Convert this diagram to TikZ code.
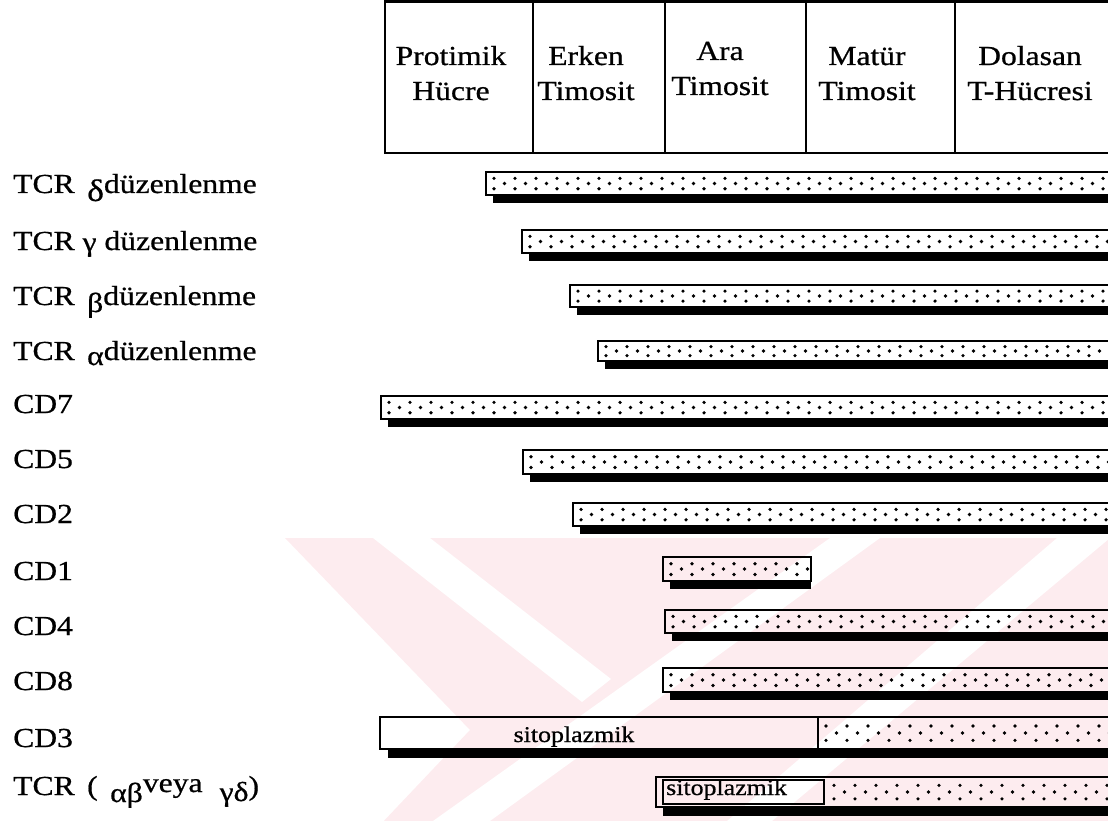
\documentclass[tikz,border=0pt]{standalone}
\usepackage{fontspec}
\setmainfont{Liberation Serif}[FakeStretch=1.15,FakeBold=0.7]
\definecolor{wm}{RGB}{253,236,239}
\tikzset{
  lbl/.style={anchor=base west, inner sep=0pt, font=\fontsize{27.5}{33}\selectfont},
  hdr/.style={anchor=base, inner sep=0pt, align=center, font=\fontsize{27.5}{35}\selectfont},
  barline/.style={draw=black, line width=2.6pt},
  frameline/.style={draw=black, line width=2.4pt},
  sito/.style={inner sep=0pt, font=\fontsize{22.5}{26}\selectfont},
  wmstripe/.style={fill=white},
}
\newcommand\bardots[4]{%
  \pgfmathtruncatemacro\nd{(#2-#1-12)/21}%
  \foreach \k in {0,...,\nd}{%
    \fill ({#1+8+21*\k},{#3+(#4-#3)*0.28}) circle (1.8pt);
    \fill ({#1+18.5+21*\k},{#3+(#4-#3)*0.5}) circle (1.8pt);
    \fill ({#1+8+21*\k},{#3+(#4-#3)*0.73}) circle (1.8pt);
  }%
}
\newcommand\drawbar[4]{%
  \fill[black] ({#1+7},#4) rectangle (#2,{#4+8});
  \draw[barline] (#1,#3) rectangle (#2,#4);
  \bardots{#1}{#2}{#3}{#4}%
}
\begin{document}
\begin{tikzpicture}[x=1pt,y=-1pt]
\useasboundingbox (0,0) rectangle (1108,821);
\clip (0,0) rectangle (1108,821);
% watermark
\fill[wm] (285,538) -- (1115,538) -- (1115,825) -- (380,825) -- (470,730) -- cycle;
\fill[wmstripe] (373,538) -- (430,538) -- (611,679) -- (582,702) -- cycle;
\fill[wmstripe] (433,821) -- (490,821) -- (880,538) -- (830,538) -- cycle;
\fill[wmstripe] (727,821) -- (772,821) -- (1110,538) -- (1057,538) -- cycle;
% header
\draw[frameline] (385,1.5) rectangle (1115,153);
\foreach \xd in {533,665,806,955} \draw[frameline] (\xd,1.5) -- (\xd,153);
\node[hdr] (h1) at (451,100) {Protimik\\Hücre};
\node[hdr] (h2) at (586,100) {Erken\\Timosit};
\node[hdr] (h3) at (720,95) {Ara\\Timosit};
\node[hdr] (h4) at (867,100) {Matür\\Timosit};
\node[hdr] (h5) at (1030,100) {Dolasan\\T-Hücresi};
% labels
\node[lbl] (l1) at (13,193) {TCR \,\raisebox{-8pt}{\fontsize{31}{33}\selectfont δ}düzenlenme};
\node[lbl] (l2) at (13,250) {TCR \raisebox{-1pt}{γ} düzenlenme};
\node[lbl] (l3) at (13,305) {TCR \,\raisebox{-7pt}{β}düzenlenme};
\node[lbl] (l4) at (13,360) {TCR \,\raisebox{-5pt}{α}düzenlenme};
\node[lbl] (l5) at (13,413) {CD7};
\node[lbl] (l6) at (13,468) {CD5};
\node[lbl] (l7) at (13,523) {CD2};
\node[lbl] (l8) at (13,580) {CD1};
\node[lbl] (l9) at (13,635) {CD4};
\node[lbl] (l10) at (13,690) {CD8};
\node[lbl] (l11) at (13,747) {CD3};
\node[lbl] (l12) at (13,795) {TCR \,(\, \raisebox{-7pt}{αβ}\raisebox{3pt}{veya}\,\, \raisebox{-6pt}{γδ})};
% bars
\drawbar{486}{1115}{172}{195}
\drawbar{522}{1115}{230}{253}
\drawbar{570}{1115}{285}{307}
\drawbar{598}{1115}{341}{361}
\drawbar{381}{1115}{396}{419}
\drawbar{523}{1115}{450}{474}
\drawbar{573}{1115}{503}{526}
\drawbar{663}{811}{557}{581}
\drawbar{665}{1115}{610}{633}
\drawbar{663}{1115}{668}{692}
% CD3
\fill[black] (388,749) rectangle (1115,758);
\draw[barline] (380,717) rectangle (1115,749);
\draw[barline] (818,717) -- (818,749);
\bardots{818}{1115}{717}{749}
\node[sito, anchor=base] (s1) at (574,742) {sitoplazmik};
% TCR last
\fill[black] (663,807) rectangle (1115,816);
\draw[barline] (656,777) rectangle (1115,807);
\draw[barline] (663,780) rectangle (824,804);
\bardots{826}{1115}{777}{807}
\node[sito, anchor=base west] (s2) at (666,795) {sitoplazmik};
\end{tikzpicture}
\end{document}
